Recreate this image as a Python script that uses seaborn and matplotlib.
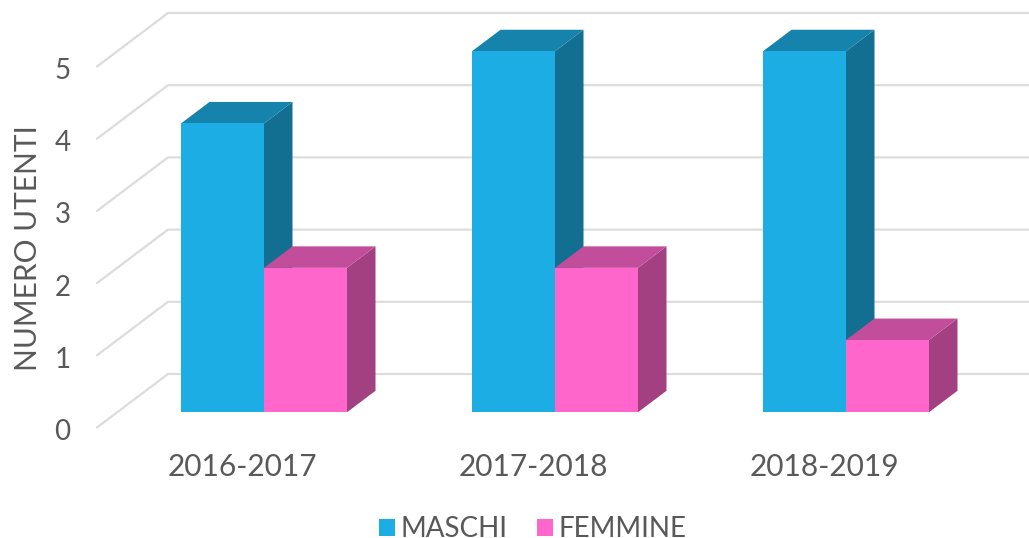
import numpy as np
import pandas as pd
import seaborn as sns
import matplotlib
matplotlib.use("Agg")
import matplotlib.pyplot as plt
from matplotlib.patches import Polygon
from matplotlib.transforms import IdentityTransform, Affine2D

categories = ["2016-2017", "2017-2018", "2018-2019"]
maschi = [4, 5, 5]
femmine = [2, 2, 1]
series_names = ["MASCHI", "FEMMINE"]
y_ticks = [0, 1, 2, 3, 4, 5]

W, H, DPI = 1029, 538, 100
FRONT = {"MASCHI": "#1CADE4", "FEMMINE": "#FF66CC"}
SIDE = {"MASCHI": "#126F92", "FEMMINE": "#A34082"}
TOP = {"MASCHI": "#1683AD", "FEMMINE": "#C24E9B"}
GRID = "#DCDCDC"
TEXT = "#595959"
WALL_DX, WALL_DY = 71, 53.5      # floor depth, px
BAR_OFF_X, BAR_OFF_Y = 21.5, 15.25  # bar front plane offset, px
BAR_DX, BAR_DY = 28.5, 21.5      # bar depth, px

sns.set_theme(style="white")
plt.rcParams["font.family"] = ["Lato", "DejaVu Sans"]

df = pd.DataFrame({
    "anno": categories * 2,
    "serie": [series_names[0]] * 3 + [series_names[1]] * 3,
    "utenti": maschi + femmine,
})

fig = plt.figure(figsize=(W / DPI, H / DPI), dpi=DPI, facecolor="white")
L, R, T, B = 97, 970, 66.5, 427.5
ax = fig.add_axes([L / W, 1 - B / H, (R - L) / W, (B - T) / H])
ax.patch.set_alpha(0)

sns.barplot(data=df, x="anno", y="utenti", hue="serie", order=categories,
            hue_order=series_names, palette=FRONT, width=83 * 2 / 291, gap=0,
            saturation=1, linewidth=0, ax=ax)
ax.set_xlim(-0.5, 2.5)
ax.set_ylim(0, 5)
ax.set_yticks(y_ticks)
sns.despine(ax=ax, left=True, bottom=True)
ax.tick_params(axis="both", length=0, labelcolor=TEXT)
ax.tick_params(axis="y", pad=19, labelsize=20)
ax.tick_params(axis="x", pad=18, labelsize=21.5)
ax.set_xlabel("")
ax.set_ylabel("NUMERO UTENTI", fontsize=21.5, color=TEXT)
ax.yaxis.set_label_coords((42 - L) / (R - L), (B - 248) / (B - T))

fig.canvas.draw()
for lab in ax.get_yticklabels():
    lab.set_transform(lab.get_transform() + Affine2D().translate(0, -2))
to_px = ax.transData.transform
ident = IdentityTransform()

# walls
for v in y_ticks:
    p0 = to_px((-0.5, v))
    p1 = p0 + (WALL_DX, WALL_DY)
    p2 = (W + 5, p1[1])
    ax.plot([p0[0], p1[0], p2[0]], [p0[1], p1[1], p2[1]], color=GRID, lw=1.6,
            transform=ident, clip_on=False, zorder=0.5, solid_joinstyle="miter")

# bars with faces
shift = Affine2D().translate(BAR_OFF_X, BAR_OFF_Y)
z = 2
for k in range(len(categories)):
    for cont, name in zip(ax.containers, series_names):
        bar = cont.patches[k]
        bar.set_transform(ax.transData + shift)
        bar.set_clip_on(False)
        x0, x1 = bar.get_x(), bar.get_x() + bar.get_width()
        h = bar.get_height()
        a = to_px((x0, h)) + (BAR_OFF_X, BAR_OFF_Y)
        b = to_px((x1, h)) + (BAR_OFF_X, BAR_OFF_Y)
        c = to_px((x1, 0)) + (BAR_OFF_X, BAR_OFF_Y)
        d = np.array((BAR_DX, BAR_DY))
        ax.add_patch(Polygon([b, b + d, c + d, c], closed=True, fc=SIDE[name], ec="none",
                             transform=ident, clip_on=False, zorder=z))
        ax.add_patch(Polygon([a, b, b + d, a + d], closed=True, fc=TOP[name], ec="none",
                             transform=ident, clip_on=False, zorder=z))
        bar.set_zorder(z + 0.1)
        z += 1

sns.move_legend(ax, "center", bbox_to_anchor=(533 / W, 1 - 529 / H),
                bbox_transform=fig.transFigure, ncol=2, frameon=False, title=None,
                fontsize=20, labelcolor=TEXT, handlelength=0.58, handleheight=0.58,
                handletextpad=0.2, columnspacing=1.05, borderpad=0, borderaxespad=0)

fig.savefig("out.png", dpi=DPI, facecolor="white")
